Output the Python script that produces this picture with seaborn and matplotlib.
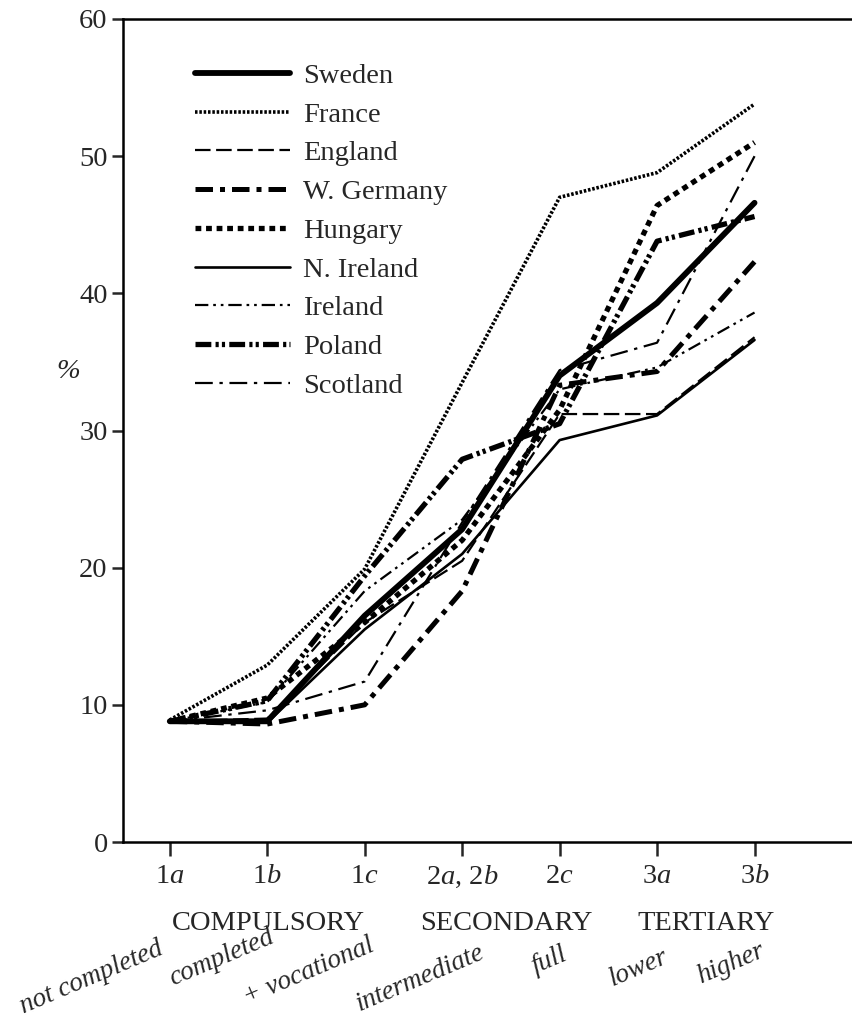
import pandas as pd
import matplotlib.pyplot as plt
import seaborn as sns

# ===== DATA =====
levels = ["1a", "1b", "1c", "2a,2b", "2c", "3a", "3b"]
level_ticks = ["1$\\mathit{a}$", "1$\\mathit{b}$", "1$\\mathit{c}$",
               "2$\\mathit{a}$, 2$\\mathit{b}$", "2$\\mathit{c}$",
               "3$\\mathit{a}$", "3$\\mathit{b}$"]
groups = ["COMPULSORY", "SECONDARY", "TERTIARY"]
sublabels = ["not completed", "completed", "+ vocational", "intermediate",
             "full", "lower", "higher"]

sweden = [8.8, 8.8, 16.5, 22.8, 34.0, 39.3, 46.6]
france = [8.9, 12.9, 19.9, 33.5, 47.0, 48.8, 53.8]
england = [8.8, 9.0, 16.0, 20.5, 31.2, 31.2, 36.8]
w_germany = [8.8, 8.6, 10.0, 18.3, 33.3, 34.3, 42.3]
hungary = [8.8, 10.5, 16.0, 22.0, 31.5, 46.4, 51.0]
n_ireland = [8.8, 8.7, 15.5, 21.0, 29.3, 31.1, 36.6]
ireland = [8.8, 10.2, 18.3, 23.5, 33.0, 34.6, 38.6]
poland = [8.8, 10.3, 19.4, 27.9, 30.5, 43.8, 45.6]
scotland = [8.8, 9.6, 11.7, 23.3, 34.4, 36.4, 50.0]

countries = ["Sweden", "France", "England", "W. Germany", "Hungary",
             "N. Ireland", "Ireland", "Poland", "Scotland"]
values = [sweden, france, england, w_germany, hungary,
          n_ireland, ireland, poland, scotland]

# line look for each country: (linewidth, dash pattern or None)
styles = {
    "Sweden": (4.2, None),
    "France": (2.6, (0.7, 0.5)),
    "England": (1.6, (7, 2.5)),
    "W. Germany": (3.6, (3.5, 1.4, 1.0, 1.4)),
    "Hungary": (3.8, (1.1, 0.9)),
    "N. Ireland": (1.9, None),
    "Ireland": (1.6, (6, 2.2, 1.2, 2.2, 1.2, 2.2)),
    "Poland": (3.8, (3.0, 0.8, 0.6, 0.6, 0.6, 0.8)),
    "Scotland": (1.6, (8, 3, 1.5, 3)),
}

rows = []
for c, vals in zip(countries, values):
    for lv, v in zip(levels, vals):
        rows.append({"country": c, "level": lv, "pct": v})
df = pd.DataFrame(rows)

# ===== PLOT =====
sns.set_style("ticks")
plt.rcParams["font.family"] = ["Liberation Serif", "DejaVu Serif"]
plt.rcParams["mathtext.fontset"] = "custom"
plt.rcParams["mathtext.rm"] = "Liberation Serif"
plt.rcParams["mathtext.it"] = "Liberation Serif:italic"

FS = 20.5

fig = plt.figure(figsize=(8.52, 10.19), dpi=100)
ax = fig.add_axes([123 / 852, 1 - 842 / 1019, 729 / 852, 823 / 1019])

for c in countries:
    lw, dash = styles[c]
    ls = "-" if dash is None else (0, dash)
    sns.lineplot(
        data=df[df["country"] == c],
        x="level",
        y="pct",
        ax=ax,
        color="black",
        linewidth=lw,
        linestyle=ls,
        label=c,
        sort=False,
    )

ax.set_xlim(-0.48, 7.0)
ax.set_ylim(0, 60)
ax.set_yticks([0, 10, 20, 30, 40, 50, 60])
ax.set_xticks(range(len(levels)))
ax.set_xticklabels(level_ticks)

ax.tick_params(axis="y", labelsize=FS, length=8, width=1.8, pad=3)
ax.tick_params(axis="x", labelsize=FS, length=10, width=1.8, pad=6)

ax.spines["right"].set_visible(False)
for s in ["left", "bottom", "top"]:
    ax.spines[s].set_linewidth(1.8)
    ax.spines[s].set_color("black")

ax.set_xlabel("")
ax.set_ylabel("%", rotation=0, fontsize=FS, fontstyle="italic",
              ha="center", va="center")
ax.yaxis.set_label_coords(-0.075, (842 - 372) / 823)

ax.legend(
    loc="upper left",
    bbox_to_anchor=(195 / 852, 1 - 63 / 1019),
    bbox_transform=fig.transFigure,
    frameon=False,
    fontsize=FS,
    handlelength=3.35,
    handletextpad=0.45,
    labelspacing=0.45,
    borderpad=0,
    borderaxespad=0,
)

# group headings under the axis
fig.text(268 / 852, 1 - 924 / 1019, groups[0], ha="center", va="center", fontsize=FS)
fig.text(506 / 852, 1 - 924 / 1019, groups[1], ha="center", va="center", fontsize=FS)
fig.text(706 / 852, 1 - 924 / 1019, groups[2], ha="center", va="center", fontsize=FS)

# slanted sub labels
sub_x = [92, 222, 309, 420, 549, 638, 731]
sub_y = [978, 958, 972, 978, 960, 968, 964]
for t, x, y in zip(sublabels, sub_x, sub_y):
    fig.text(x / 852, 1 - y / 1019, t, ha="center", va="center",
             fontsize=19.5, fontstyle="italic", rotation=23)

fig.savefig("out.png", dpi=100, facecolor="white")
